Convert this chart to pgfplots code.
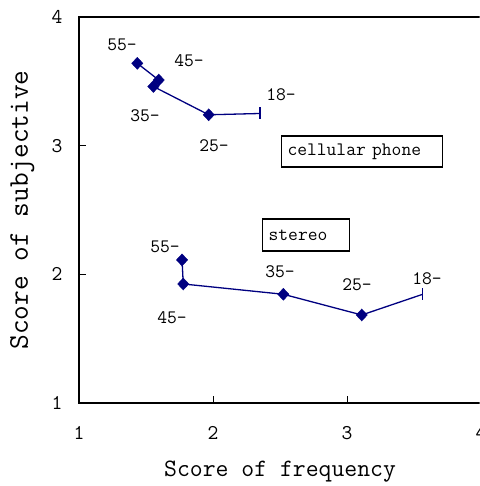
\documentclass[border=0pt]{standalone}
\usepackage{pgfplots}
\pgfplotsset{compat=1.18}
\definecolor{navyline}{RGB}{0,0,128}

% age groups: 18-, 25-, 35-, 45-, 55-
\pgfplotstableread{
x     y
2.350 3.250
1.968 3.240
1.555 3.460
1.595 3.510
1.435 3.640
}\cellular
\pgfplotstableread{
x     y
3.565 1.845
3.110 1.684
2.525 1.845
1.778 1.925
1.769 2.112
}\stereo

\newcommand{\lbl}{\ttfamily\fontsize{19}{19}\selectfont}

\begin{document}
\begin{tikzpicture}[x=1pt,y=1pt]
\clip (-79,-83) rectangle (400.5,403);
\begin{axis}[
  name=ax, at={(0,0)}, anchor=south west,
  scale only axis, width=402pt, height=386pt,
  xmin=1, xmax=4, ymin=1, ymax=4,
  xtick={1,2,3,4}, ytick={1,2,3,4},
  xticklabels={1,2,3,4}, yticklabels={1,2,3,4},
  tick pos=left, tick align=inside,
  major tick length=7pt,
  tick style={line width=0.8pt, black},
  axis line style={line width=1.5pt},
  every tick label/.append style={font=\ttfamily\fontsize{21}{21}\selectfont},
  xticklabel style={yshift=-20pt},
  yticklabel style={xshift=-13pt},
  xlabel={Score of frequency},
  ylabel={Score of subjective},
  x label style={at={(axis description cs:0.5,-0.1788)}, anchor=center,
    font=\ttfamily\fontsize{25}{25}\selectfont},
  y label style={at={(axis description cs:-0.141,0.50)}, anchor=center,
    rotate=0, font=\ttfamily\fontsize{28.5}{28.5}\selectfont},
  clip=false,
]
% cellular phone
\addplot[navyline, line width=1.3pt, no marks] table {\cellular};
\addplot[navyline, only marks, mark=diamond*, mark size=6pt,
  mark options={xscale=1.25}] table[skip coords between index={0}{1}] {\cellular};
\addplot[navyline, only marks, mark=|, mark size=6pt,
  mark options={line width=1.3pt}] table[skip coords between index={1}{5}] {\cellular};
% stereo
\addplot[navyline, line width=1.3pt, no marks] table {\stereo};
\addplot[navyline, only marks, mark=diamond*, mark size=6pt,
  mark options={xscale=1.25}] table[skip coords between index={0}{1}] {\stereo};
\addplot[navyline, only marks, mark=|, mark size=6pt,
  mark options={line width=1.3pt}] table[skip coords between index={1}{5}] {\stereo};

% group labels
\node[font=\lbl] at (axis cs:1.321,3.782) {55-};
\node[font=\lbl] at (axis cs:1.821,3.658) {45-};
\node[font=\lbl] at (axis cs:1.493,3.231) {35-};
\node[font=\lbl] at (axis cs:2.007,2.998) {25-};
\node[font=\lbl] at (axis cs:2.507,3.394) {18-};
\node[font=\lbl] at (axis cs:1.642,2.213) {55-};
\node[font=\lbl] at (axis cs:1.694,1.661) {45-};
\node[font=\lbl] at (axis cs:2.500,2.019) {35-};
\node[font=\lbl] at (axis cs:3.075,1.918) {25-};
\node[font=\lbl] at (axis cs:3.597,1.964) {18-};

% product boxes
\node[draw, line width=1.2pt, anchor=west, font=\lbl, text width=149pt,
  inner xsep=6pt, minimum height=31pt, align=left]
  at (axis cs:2.507,2.955) {cellular phone};
\node[draw, line width=1.2pt, anchor=west, font=\lbl, text width=75pt,
  inner xsep=6pt, minimum height=32pt, align=left]
  at (axis cs:2.366,2.306) {stereo};
\end{axis}
\end{tikzpicture}
\end{document}
